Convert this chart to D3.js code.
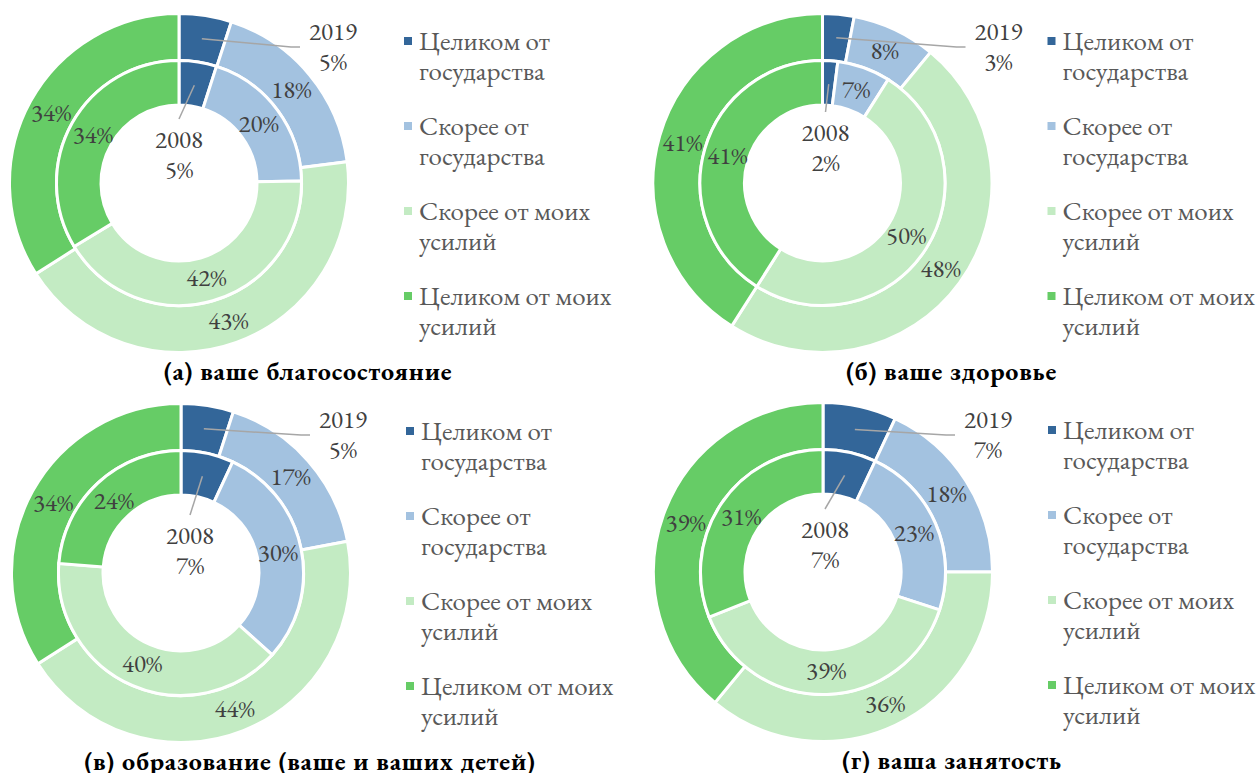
<!DOCTYPE html>
<html lang="ru">
<head>
    <meta charset="UTF-8">
    <title>Double doughnuts 2008 / 2019</title>
    <style>
        body { margin: 0; background: #fff; }
    </style>
</head>
<body>

<svg width="1257" height="773"></svg>

<script src="https://d3js.org/d3.v7.min.js"></script>
<script>

    // Categories (legend) and colours
    const categories = ['Целиком от государства', 'Скорее от государства',
                        'Скорее от моих усилий', 'Целиком от моих усилий'];
    const legendLines = [['Целиком от', 'государства'], ['Скорее от', 'государства'],
                         ['Скорее от моих', 'усилий'], ['Целиком от моих', 'усилий']];
    const colors = ['#336699', '#A3C2E0', '#C3EBC3', '#66CC66'];

    const titles = ['(а) ваше благосостояние', '(б) ваше здоровье',
                    '(в) образование (ваше и ваших детей)', '(г) ваша занятость'];

    // outer ring = 2019, inner ring = 2008, in %
    const values2019 = [[5, 18, 43, 34], [3, 8, 48, 41], [5, 17, 44, 34], [7, 18, 36, 39]];
    const values2008 = [[5, 20, 42, 34], [2, 7, 50, 41], [7, 30, 40, 24], [7, 23, 39, 31]];

    // layout of the four panels
    const centers = [[179, 183], [822.5, 183], [181, 573], [823, 572]];
    // where the callout labels of the first slice sit (relative to centre)
    const outerCallout = [[154, -151], [176, -151], [162, -153], [165, -152]];
    const innerCallout = [[0, -43], [3, -50], [9, -37], [2, -42]];

    const holeR = 78, midR = 122.5, outerR = 169.5;
    const font = "'EB Garamond', 'Liberation Serif', serif";

    const svg = d3.select('svg');

    const pie = d3.pie().sort(null).value(function (d) { return d; });
    const innerArc = d3.arc().innerRadius(holeR).outerRadius(midR);
    const outerArc = d3.arc().innerRadius(midR).outerRadius(outerR);
    const innerLabelArc = d3.arc().innerRadius(99).outerRadius(99);
    const outerLabelArc = d3.arc().innerRadius(146).outerRadius(146);

    function labelStyle(sel) {
        sel.style('font-family', font)
           .style('font-size', '25px')
           .style('fill', '#404040');
    }

    titles.forEach(function (title, i) {

        const cx = centers[i][0], cy = centers[i][1];
        const g = svg.append('g').attr('transform', 'translate(' + cx + ',' + cy + ')');

        const rings = [
            { data: pie(values2019[i]), arc: outerArc, labelArc: outerLabelArc, year: '2019', callout: outerCallout[i] },
            { data: pie(values2008[i]), arc: innerArc, labelArc: innerLabelArc, year: '2008', callout: innerCallout[i] }
        ];

        rings.forEach(function (ring) {
            g.append('g')
                .selectAll('path')
                .data(ring.data)
                .enter()
                .append('path')
                .attr('d', ring.arc)
                .attr('fill', function (d, k) { return colors[k]; })
                .attr('stroke', '#fff')
                .attr('stroke-width', 3);
        });

        rings.forEach(function (ring, r) {
            // plain labels for slices 2..4
            g.append('g')
                .selectAll('text')
                .data(ring.data.slice(1))
                .enter()
                .append('text')
                .call(labelStyle)
                .attr('transform', function (d) {
                    const c = ring.labelArc.centroid(d);
                    return 'translate(' + c[0] + ',' + c[1] + ')';
                })
                .attr('text-anchor', 'middle')
                .attr('dy', '0.33em')
                .text(function (d) { return d.data + '%'; });

            // callout for the first (small) slice
            const first = ring.data[0];
            const c = ring.labelArc.centroid(first);
            const lx = ring.callout[0], ly = ring.callout[1];
            let pts;
            if (r === 0) {
                const endX = lx - 33, midY = ly + 15;
                pts = [c, [endX - 9, midY], [endX, midY]];
            } else {
                pts = [c, [lx, ly - 21]];
            }
            g.append('path')
                .attr('d', d3.line()(pts))
                .attr('fill', 'none')
                .attr('stroke', '#A6A6A6')
                .attr('stroke-width', 1.5);

            const t = g.append('text')
                .call(labelStyle)
                .attr('text-anchor', 'middle')
                .attr('x', lx)
                .attr('y', ly);
            t.append('tspan').attr('x', lx).attr('dy', '0.33em').text(ring.year);
            t.append('tspan').attr('x', lx).attr('dy', 30).text(first.data + '%');
        });

        // legend
        const leg = g.append('g').attr('transform', 'translate(225,-142)');
        const item = leg.selectAll('g')
            .data(categories)
            .enter()
            .append('g')
            .attr('transform', function (d, k) { return 'translate(0,' + (k * 85) + ')'; });

        item.append('rect')
            .attr('x', 0).attr('y', -4)
            .attr('width', 8).attr('height', 8)
            .attr('fill', function (d, k) { return colors[k]; });

        item.append('text')
            .style('font-family', font)
            .style('font-size', '27px')
            .style('fill', '#595959')
            .attr('x', 15)
            .attr('y', 0)
            .each(function (d, k) {
                const el = d3.select(this);
                legendLines[k].forEach(function (line, j) {
                    el.append('tspan')
                        .attr('x', 15)
                        .attr('dy', j === 0 ? '0.33em' : 30)
                        .text(line);
                });
            });

        // caption
        g.append('text')
            .style('font-family', font)
            .style('font-size', '26px')
            .style('font-weight', 'bold')
            .style('letter-spacing', '0.8px')
            .style('fill', '#000')
            .attr('x', 129)
            .attr('y', 188)
            .attr('dy', '0.33em')
            .attr('text-anchor', 'middle')
            .text(title);
    });

</script>
</body>
</html>
